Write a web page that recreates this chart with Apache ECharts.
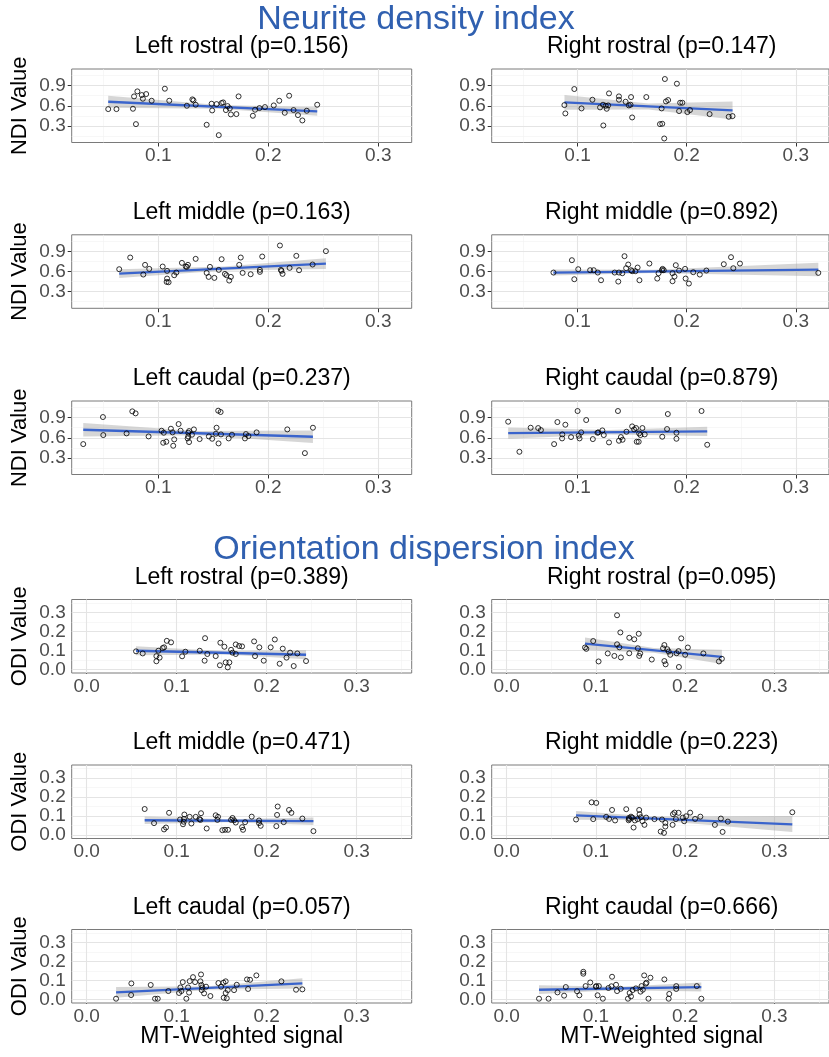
<!DOCTYPE html>
<html><head><meta charset="utf-8">
<script src="https://cdn.jsdelivr.net/npm/echarts@6/dist/echarts.min.js"></script>
<style>html,body{margin:0;padding:0;background:#fff}#c{width:829px;height:1057px}</style>
</head><body><div id="c"></div><script>
const mainTitles = ['Neurite density index', 'Orientation dispersion index'];
const panelTitles = ['Left rostral (p=0.156)', 'Right rostral (p=0.147)', 'Left middle (p=0.163)', 'Right middle (p=0.892)', 'Left caudal (p=0.237)', 'Right caudal (p=0.879)',
  'Left rostral (p=0.389)', 'Right rostral (p=0.095)', 'Left middle (p=0.471)', 'Right middle (p=0.223)', 'Left caudal (p=0.057)', 'Right caudal (p=0.666)'];
const yTitles = ['NDI Value', 'ODI Value'];
const xTitle = 'MT-Weighted signal';
const ndiXTicks = [0.1, 0.2, 0.3];
const ndiYTicks = [0.3, 0.6, 0.9];
const odiXTicks = [0.0, 0.1, 0.2, 0.3];
const odiYTicks = [0.0, 0.1, 0.2, 0.3];
const ndiXMinor = [0.05, 0.15, 0.25];
const ndiYMinor = [0.15, 0.45, 0.75, 1.05];
const odiXMinor = [0.05, 0.15, 0.25, 0.35];
const odiYMinor = [0.05, 0.15, 0.25, 0.35];

const ndiLeftRostral = [[0.0545,0.55],[0.062,0.55],[0.078,0.74],[0.077,0.555],[0.0797,0.325],[0.081,0.815],[0.085,0.76],[0.086,0.705],[0.089,0.775],[0.094,0.675],[0.106,0.855],[0.11,0.675],[0.126,0.6],[0.131,0.695],[0.132,0.68],[0.134,0.615],[0.144,0.315],[0.1485,0.63],[0.149,0.53],[0.153,0.625],[0.155,0.16],[0.1576,0.64],[0.159,0.65],[0.1615,0.535],[0.163,0.595],[0.165,0.56],[0.166,0.47],[0.171,0.475],[0.173,0.74],[0.186,0.45],[0.188,0.54],[0.192,0.565],[0.197,0.58],[0.205,0.605],[0.21,0.675],[0.219,0.75],[0.215,0.495],[0.223,0.535],[0.227,0.46],[0.231,0.38],[0.235,0.525],[0.2445,0.615]];
const ndiRightRostral = [[0.0879,0.61],[0.0888,0.485],[0.097,0.85],[0.1036,0.56],[0.1136,0.69],[0.1206,0.575],[0.1233,0.615],[0.1236,0.305],[0.1258,0.6],[0.1267,0.555],[0.128,0.605],[0.1288,0.785],[0.1379,0.74],[0.1379,0.69],[0.144,0.66],[0.147,0.605],[0.1485,0.615],[0.149,0.73],[0.150,0.425],[0.163,0.73],[0.177,0.56],[0.1755,0.325],[0.1776,0.33],[0.1794,0.11],[0.180,1.0],[0.181,0.665],[0.183,0.685],[0.191,0.93],[0.193,0.52],[0.194,0.645],[0.196,0.645],[0.2006,0.505],[0.203,0.535],[0.221,0.475],[0.2385,0.435],[0.242,0.445]];
const ndiLeftMiddle = [[0.0645,0.635],[0.0745,0.81],[0.0864,0.555],[0.088,0.70],[0.0918,0.64],[0.104,0.675],[0.108,0.61],[0.108,0.495],[0.1076,0.445],[0.1094,0.44],[0.1145,0.545],[0.1164,0.585],[0.1215,0.73],[0.125,0.675],[0.127,0.70],[0.126,0.67],[0.134,0.79],[0.144,0.58],[0.1458,0.52],[0.147,0.67],[0.151,0.505],[0.155,0.625],[0.1576,0.785],[0.1606,0.565],[0.162,0.545],[0.1645,0.465],[0.166,0.52],[0.1736,0.70],[0.175,0.81],[0.1767,0.58],[0.184,0.56],[0.1924,0.625],[0.1924,0.595],[0.1945,0.825],[0.2106,0.99],[0.2115,0.625],[0.212,0.61],[0.213,0.565],[0.2194,0.655],[0.2255,0.835],[0.228,0.62],[0.2403,0.705],[0.2524,0.905]];
const ndiRightMiddle = [[0.0779,0.585],[0.0948,0.77],[0.097,0.485],[0.1006,0.635],[0.1115,0.62],[0.1148,0.62],[0.1185,0.585],[0.1215,0.47],[0.134,0.585],[0.1373,0.45],[0.1379,0.585],[0.141,0.575],[0.143,0.83],[0.1445,0.65],[0.1464,0.705],[0.149,0.62],[0.150,0.605],[0.153,0.605],[0.155,0.66],[0.1567,0.47],[0.1658,0.72],[0.173,0.495],[0.1742,0.575],[0.1773,0.62],[0.1779,0.64],[0.179,0.62],[0.187,0.575],[0.187,0.455],[0.1888,0.525],[0.190,0.695],[0.193,0.615],[0.1985,0.64],[0.199,0.495],[0.202,0.42],[0.206,0.59],[0.212,0.555],[0.218,0.615],[0.234,0.71],[0.2406,0.815],[0.2427,0.65],[0.2488,0.72],[0.3206,0.58]];
const ndiLeftCaudal = [[0.0318,0.505],[0.0497,0.91],[0.05,0.64],[0.0712,0.665],[0.0764,0.995],[0.0794,0.965],[0.0912,0.62],[0.103,0.705],[0.105,0.675],[0.1045,0.525],[0.1073,0.54],[0.1115,0.735],[0.113,0.68],[0.1136,0.48],[0.1145,0.575],[0.1185,0.805],[0.1203,0.705],[0.1267,0.59],[0.1273,0.62],[0.1273,0.675],[0.128,0.70],[0.128,0.535],[0.1306,0.645],[0.1324,0.725],[0.1376,0.58],[0.146,0.62],[0.149,0.585],[0.153,0.75],[0.1524,0.66],[0.1545,1.005],[0.1567,0.985],[0.1548,0.515],[0.157,0.65],[0.164,0.59],[0.167,0.645],[0.1788,0.59],[0.1797,0.655],[0.182,0.625],[0.1894,0.68],[0.2173,0.725],[0.2333,0.37],[0.2406,0.75]];
const ndiRightCaudal = [[0.0364,0.84],[0.0467,0.39],[0.057,0.75],[0.0639,0.745],[0.0664,0.715],[0.0785,0.505],[0.0815,0.835],[0.0858,0.59],[0.086,0.65],[0.0888,0.795],[0.094,0.61],[0.1,1.0],[0.101,0.63],[0.1018,0.59],[0.1033,0.68],[0.1079,0.865],[0.114,0.58],[0.1182,0.675],[0.119,0.68],[0.1227,0.71],[0.124,0.64],[0.1288,0.53],[0.137,1.0],[0.1379,0.555],[0.1397,0.61],[0.1412,0.57],[0.1448,0.69],[0.15,0.77],[0.1518,0.725],[0.1536,0.745],[0.1542,0.54],[0.156,0.54],[0.1564,0.665],[0.1576,0.64],[0.1594,0.745],[0.1615,0.65],[0.1776,0.615],[0.182,0.73],[0.1827,0.955],[0.1906,0.675],[0.1906,0.585],[0.2136,1.0],[0.2188,0.495]];
const odiLeftRostral = [[0.0548,0.096],[0.0622,0.085],[0.0774,0.071],[0.0774,0.044],[0.0796,0.099],[0.081,0.063],[0.0844,0.113],[0.086,0.117],[0.089,0.151],[0.0937,0.143],[0.106,0.07],[0.1096,0.094],[0.1256,0.099],[0.1315,0.165],[0.131,0.047],[0.134,0.082],[0.1433,0.071],[0.148,0.023],[0.1485,0.141],[0.153,0.12],[0.1544,0.038],[0.1567,0.012],[0.1585,0.038],[0.1604,0.104],[0.162,0.089],[0.1656,0.082],[0.1656,0.132],[0.1693,0.124],[0.1726,0.122],[0.186,0.148],[0.187,0.071],[0.1918,0.117],[0.1967,0.047],[0.2044,0.117],[0.209,0.158],[0.2144,0.031],[0.2178,0.11],[0.222,0.063],[0.226,0.089],[0.23,0.019],[0.234,0.085],[0.2437,0.045]];
const odiRightRostral = [[0.0878,0.116],[0.0893,0.109],[0.097,0.15],[0.103,0.043],[0.1133,0.085],[0.1207,0.072],[0.1237,0.285],[0.1237,0.133],[0.1263,0.117],[0.1274,0.195],[0.128,0.064],[0.1374,0.167],[0.1374,0.086],[0.143,0.159],[0.148,0.188],[0.147,0.112],[0.1485,0.072],[0.1496,0.085],[0.1626,0.053],[0.1752,0.112],[0.1767,0.129],[0.1767,0.045],[0.1781,0.028],[0.18,0.107],[0.1815,0.095],[0.1833,0.078],[0.1904,0.086],[0.1926,0.097],[0.193,0.014],[0.1956,0.164],[0.2,0.078],[0.203,0.116],[0.2204,0.085],[0.2378,0.043],[0.2411,0.057]];
const odiLeftMiddle = [[0.0644,0.137],[0.0748,0.063],[0.0859,0.03],[0.0881,0.04],[0.0915,0.117],[0.1037,0.082],[0.107,0.057],[0.1078,0.07],[0.1081,0.085],[0.1085,0.108],[0.1144,0.096],[0.1163,0.061],[0.1211,0.096],[0.1252,0.084],[0.1263,0.08],[0.127,0.115],[0.1333,0.035],[0.1433,0.104],[0.1459,0.096],[0.1452,0.08],[0.1507,0.026],[0.1537,0.028],[0.157,0.028],[0.1604,0.08],[0.162,0.09],[0.1637,0.078],[0.1656,0.066],[0.1726,0.042],[0.1737,0.028],[0.176,0.068],[0.1833,0.097],[0.1915,0.077],[0.1915,0.063],[0.1933,0.049],[0.2107,0.047],[0.2115,0.106],[0.2122,0.15],[0.2189,0.068],[0.2248,0.132],[0.2274,0.117],[0.2396,0.087],[0.2519,0.021]];
const odiRightMiddle = [[0.0778,0.082],[0.0952,0.172],[0.1004,0.169],[0.097,0.084],[0.1115,0.096],[0.1148,0.085],[0.1181,0.132],[0.1215,0.077],[0.134,0.136],[0.1367,0.078],[0.137,0.09],[0.1374,0.084],[0.1393,0.097],[0.1407,0.092],[0.1422,0.04],[0.1437,0.077],[0.1467,0.084],[0.1485,0.132],[0.1489,0.11],[0.1504,0.094],[0.1522,0.073],[0.1544,0.054],[0.1563,0.092],[0.1656,0.084],[0.1726,0.019],[0.1741,0.082],[0.1763,0.012],[0.1778,0.064],[0.1778,0.045],[0.1859,0.054],[0.1863,0.11],[0.1881,0.118],[0.1896,0.084],[0.1926,0.117],[0.1974,0.092],[0.1989,0.073],[0.2011,0.099],[0.2056,0.118],[0.2111,0.085],[0.217,0.097],[0.2333,0.054],[0.24,0.087],[0.2419,0.017],[0.2478,0.071],[0.32,0.12]];
const odiLeftCaudal = [[0.0326,0.005],[0.0496,0.085],[0.0493,0.024],[0.0711,0.077],[0.0759,0.005],[0.0789,0.005],[0.0907,0.045],[0.1026,0.035],[0.1041,0.064],[0.1052,0.045],[0.1067,0.092],[0.1107,0.005],[0.1126,0.064],[0.1137,0.037],[0.1144,0.097],[0.1181,0.118],[0.1204,0.092],[0.1263,0.096],[0.127,0.132],[0.1274,0.077],[0.1285,0.064],[0.1278,0.05],[0.1304,0.033],[0.1326,0.068],[0.1374,0.019],[0.1463,0.087],[0.1493,0.068],[0.1519,0.089],[0.1544,0.096],[0.1522,0.01],[0.1544,0.035],[0.1556,0.007],[0.1567,0.05],[0.1637,0.05],[0.1667,0.078],[0.1781,0.106],[0.1815,0.104],[0.1793,0.056],[0.1885,0.127],[0.2163,0.096],[0.2326,0.052],[0.2396,0.054]];
const odiRightCaudal = [[0.0363,0.005],[0.047,0.005],[0.057,0.038],[0.0644,0.021],[0.0663,0.066],[0.0789,0.044],[0.0815,0.023],[0.0859,0.146],[0.0859,0.136],[0.0885,0.071],[0.0937,0.09],[0.1,0.068],[0.1004,0.071],[0.1019,0.023],[0.1033,0.071],[0.1078,0.005],[0.1141,0.061],[0.1174,0.07],[0.1181,0.12],[0.1226,0.078],[0.1237,0.045],[0.1278,0.057],[0.1359,0.005],[0.1378,0.035],[0.1393,0.017],[0.1411,0.05],[0.1448,0.059],[0.15,0.042],[0.1511,0.071],[0.1526,0.052],[0.1541,0.127],[0.1559,0.084],[0.1567,0.089],[0.1589,0.005],[0.1611,0.115],[0.1767,0.106],[0.1815,0.005],[0.1822,0.03],[0.19,0.071],[0.19,0.056],[0.213,0.071],[0.2181,0.005]];

// fitted line end points [x, y] and confidence band [x, lower, upper]
const fitLines = [
  [[0.0545,0.66],[0.2445,0.515]], [[0.088,0.65],[0.242,0.53]],
  [[0.0645,0.57],[0.2524,0.72]], [[0.0779,0.585],[0.3206,0.63]],
  [[0.0318,0.72],[0.2406,0.615]], [[0.0364,0.67],[0.2188,0.695]],
  [[0.0548,0.099],[0.2437,0.078]], [[0.0878,0.136],[0.2411,0.067]],
  [[0.0644,0.078],[0.2519,0.073]], [[0.0778,0.104],[0.32,0.057]],
  [[0.0326,0.038],[0.2396,0.085]], [[0.0363,0.052],[0.2181,0.066]]
];
const fitBands = [
  [[0.0545,0.57,0.75],[0.155,0.555,0.611],[0.2445,0.452,0.578]],
  [[0.088,0.54,0.76],[0.165,0.545,0.635],[0.242,0.395,0.665]],
  [[0.0645,0.505,0.635],[0.16,0.616,0.676],[0.2524,0.64,0.80]],
  [[0.0779,0.54,0.63],[0.17,0.577,0.627],[0.3206,0.53,0.73]],
  [[0.0318,0.62,0.82],[0.135,0.636,0.70],[0.2406,0.52,0.71]],
  [[0.0364,0.585,0.755],[0.128,0.647,0.717],[0.2188,0.625,0.765]],
  [[0.0548,0.076,0.122],[0.155,0.08,0.096],[0.2437,0.054,0.102]],
  [[0.0878,0.103,0.169],[0.165,0.089,0.113],[0.2411,0.03,0.104]],
  [[0.0644,0.058,0.098],[0.155,0.068,0.083],[0.2519,0.053,0.093]],
  [[0.0778,0.081,0.127],[0.165,0.078,0.096],[0.32,0.016,0.1]],
  [[0.0326,0.01,0.066],[0.135,0.052,0.07],[0.2396,0.058,0.112]],
  [[0.0363,0.03,0.076],[0.127,0.05,0.068],[0.2181,0.043,0.09]]
];
const points = [ndiLeftRostral, ndiRightRostral, ndiLeftMiddle, ndiRightMiddle, ndiLeftCaudal, ndiRightCaudal,
  odiLeftRostral, odiRightRostral, odiLeftMiddle, odiRightMiddle, odiLeftCaudal, odiRightCaudal];

const FONT = '"Liberation Sans", Arial, Helvetica, sans-serif';
const colLeft = [71.7, 491.7];
const rowTop = [69, 234.8, 401, 599.5, 765, 929.5];
const panelW = 340, panelH = 73.5;
const ndiXRange = [0.0213, 0.3304], ndiYRange = [0.05, 1.15];
const odiXRange = [-0.0167, 0.3611], odiYRange = [-0.0175, 0.3675];

const grids = [], xAxes = [], yAxes = [], series = [], graphics = [];
graphics.push({type:'text', x:416, y:20, style:{text:mainTitles[0], fontSize:34, fontFamily:FONT, fill:'#3060B0', align:'center', verticalAlign:'middle'}});
graphics.push({type:'text', x:424, y:550, style:{text:mainTitles[1], fontSize:34, fontFamily:FONT, fill:'#3060B0', align:'center', verticalAlign:'middle'}});

function bandRenderer(band) {
  return function (params, api) {
    if (params.dataIndex !== 0) return null;
    const upper = band.map(b => api.coord([b[0], b[2]]));
    const lower = band.map(b => api.coord([b[0], b[1]])).reverse();
    return {type: 'polygon', shape: {points: upper.concat(lower)}, style: {fill: 'rgba(153,153,153,0.4)', stroke: null}, silent: true};
  };
}

for (let i = 0; i < 12; i++) {
  const isOdi = i >= 6;
  const row = Math.floor(i / 2), col = i % 2;
  const left = colLeft[col], top = rowTop[row];
  grids.push({left: left, top: top, width: panelW, height: panelH, show: true, borderColor: '#7a7a7a', borderWidth: 1, backgroundColor: '#fff', containLabel: false});
  const xr = isOdi ? odiXRange : ndiXRange, yr = isOdi ? odiYRange : ndiYRange;
  const xt = isOdi ? odiXTicks : ndiXTicks, yt = isOdi ? odiYTicks : ndiYTicks;
  const xm = isOdi ? odiXMinor : ndiXMinor, ym = isOdi ? odiYMinor : ndiYMinor;
  xAxes.push({gridIndex: i, type: 'value', min: xr[0], max: xr[1],
    axisLine: {show: false}, splitLine: {show: false},
    axisTick: {show: true, length: 4, customValues: xt, lineStyle: {color: '#333', width: 1}},
    axisLabel: {customValues: xt, formatter: v => v.toFixed(1), color: '#4D4D4D', fontSize: 19, fontFamily: FONT, margin: 4}});
  yAxes.push({gridIndex: i, type: 'value', min: yr[0], max: yr[1],
    axisLine: {show: false}, splitLine: {show: false},
    axisTick: {show: true, length: 4, customValues: yt, lineStyle: {color: '#333', width: 1}},
    axisLabel: {customValues: yt, formatter: v => v.toFixed(1), color: '#4D4D4D', fontSize: 19, fontFamily: FONT, margin: 6}});
  const gridData = [];
  xm.forEach(v => gridData.push({xAxis: v, lineStyle: {color: '#F2F2F2', width: 0.6, type: 'solid'}}));
  ym.forEach(v => gridData.push({yAxis: v, lineStyle: {color: '#F2F2F2', width: 0.6, type: 'solid'}}));
  xt.forEach(v => gridData.push({xAxis: v, lineStyle: {color: '#E4E4E4', width: 1.1, type: 'solid'}}));
  yt.forEach(v => gridData.push({yAxis: v, lineStyle: {color: '#E4E4E4', width: 1.1, type: 'solid'}}));
  series.push({type: 'line', xAxisIndex: i, yAxisIndex: i, data: [], silent: true, z: 1,
    markLine: {silent: true, symbol: ['none', 'none'], label: {show: false}, animation: false, z: 1, emphasis: {disabled: true}, data: gridData}});
  series.push({type: 'custom', xAxisIndex: i, yAxisIndex: i, coordinateSystem: 'cartesian2d', silent: true, z: 2,
    renderItem: bandRenderer(fitBands[i]), data: fitBands[i], encode: {x: 0, y: [1, 2]}});
  series.push({type: 'line', xAxisIndex: i, yAxisIndex: i, symbol: 'none', silent: true, z: 3,
    lineStyle: {color: '#3A64CC', width: 2.3}, data: fitLines[i]});
  series.push({type: 'scatter', xAxisIndex: i, yAxisIndex: i, symbol: 'circle', symbolSize: 5, silent: true, z: 4,
    itemStyle: {color: 'rgba(0,0,0,0)', borderColor: '#000', borderWidth: 1}, data: points[i]});
  graphics.push({type: 'text', x: left + panelW / 2, y: top - 22, style: {text: panelTitles[i], fontSize: 23, fontFamily: FONT, fill: '#000', align: 'center', verticalAlign: 'middle'}});
  if (col === 0) {
    graphics.push({type: 'text', x: 20, y: top + panelH / 2, rotation: Math.PI / 2, style: {text: yTitles[isOdi ? 1 : 0], fontSize: 22, fontFamily: FONT, fill: '#000', align: 'center', verticalAlign: 'middle'}});
  }
  if (row === 5) {
    graphics.push({type: 'text', x: left + panelW / 2, y: 1037, style: {text: xTitle, fontSize: 23, fontFamily: FONT, fill: '#000', align: 'center', verticalAlign: 'middle'}});
  }
}

const chart = echarts.init(document.getElementById('c'), null, {renderer: 'canvas'});
chart.setOption({animation: false, backgroundColor: '#fff', grid: grids, xAxis: xAxes, yAxis: yAxes, series: series, graphic: graphics});
</script></body></html>
